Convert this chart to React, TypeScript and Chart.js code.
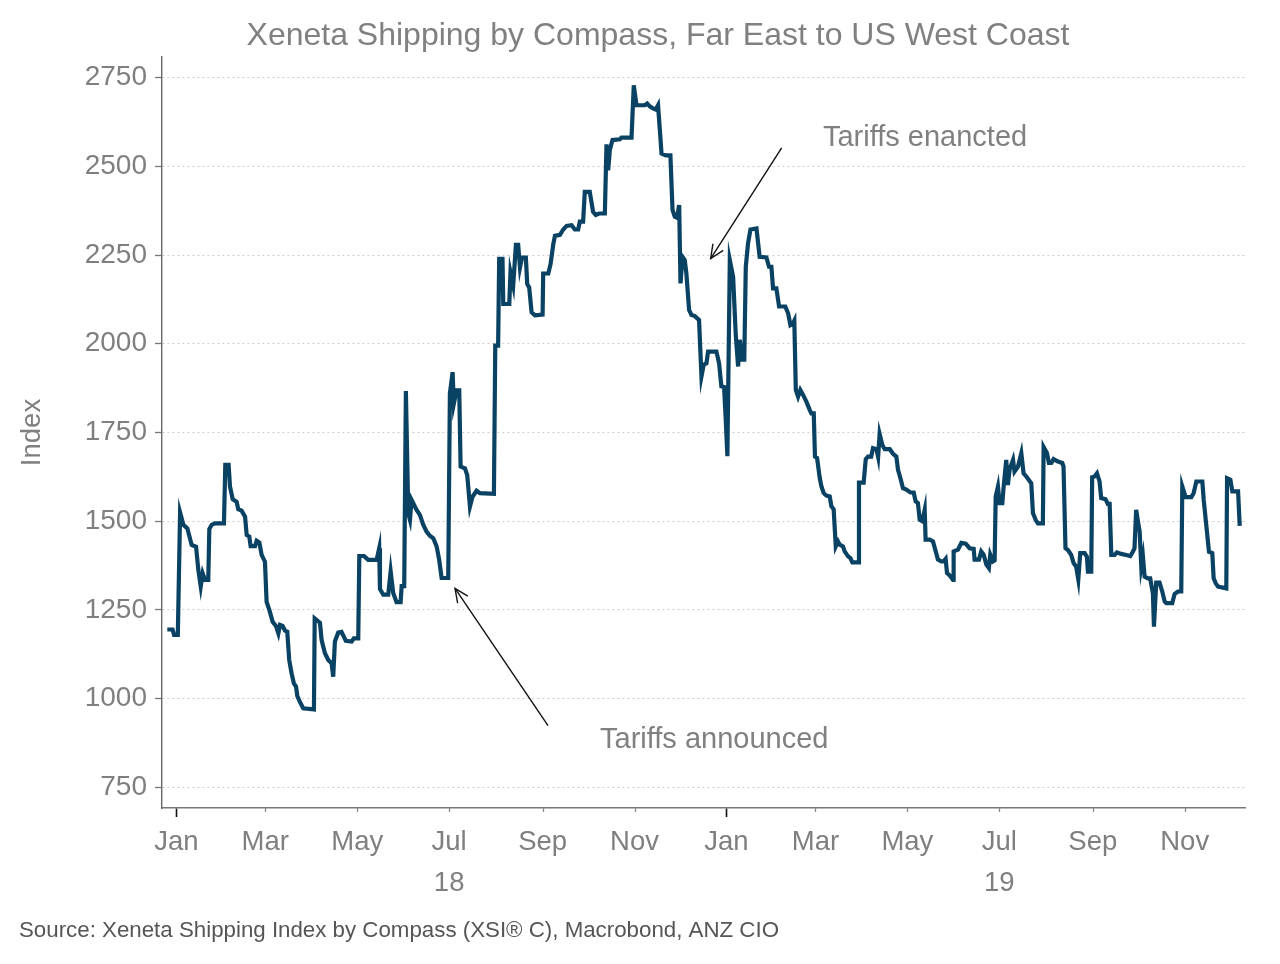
import React, { useEffect, useRef } from 'react';
import { Chart, registerables } from 'chart.js';

Chart.register(...registerables);

const FONT = "'Liberation Sans', Arial, Helvetica, sans-serif";

const chartTitle = 'Xeneta Shipping by Compass, Far East to US West Coast';
const sourceText = 'Source: Xeneta Shipping Index by Compass (XSI\u00AE C), Macrobond, ANZ CIO';
const yAxisTitle = 'Index';

// x values are days since 2018-01-01
const BASE_DATE = '2018-01-01';
const xRange = [-9.5, 709];
const yRange = [692, 2808];

const tickDates = [
  '2018-01-01', '2018-03-01', '2018-05-01', '2018-07-01', '2018-09-01', '2018-11-01',
  '2019-01-01', '2019-03-01', '2019-05-01', '2019-07-01', '2019-09-01', '2019-11-01',
];
const tickMonths = ['Jan', 'Mar', 'May', 'Jul', 'Sep', 'Nov', 'Jan', 'Mar', 'May', 'Jul', 'Sep', 'Nov'];
const tickYears = ['', '', '', '18', '', '', '', '', '', '19', '', ''];
const yTicks = [750, 1000, 1250, 1500, 1750, 2000, 2250, 2500, 2750];

const dayOffsets = [
  -6.0, -2.5, -1.5, 1.0, 2.5, 4.7, 7.3, 10.2, 13.1, 14.6, 16.2, 17.5, 19.0, 21.2, 21.9, 23.5, 25.7, 31.6,
  32.5, 34.7, 35.6, 37.4, 40.0, 41.1, 43.3, 45.6, 46.7, 48.4, 49.3, 52.2, 53.3, 55.1, 56.6, 58.8, 59.9,
  61.7, 63.9, 66.1, 67.7, 68.8, 70.5, 72.1, 73.6, 74.9, 76.5, 78.0, 79.4, 80.3, 82.0, 84.2, 91.3, 91.8,
  95.3, 96.4, 98.6, 100.8, 103.0, 104.1, 105.2, 107.4, 109.6, 112.5, 116.3, 117.8, 120.7, 121.4, 124.5,
  127.3, 132.9, 134.6, 135.1, 137.3, 140.6, 142.2, 143.9, 146.1, 148.8, 149.5, 151.2, 152.3, 153.9, 155.0,
  156.1, 159.4, 161.6, 163.8, 166.0, 168.2, 170.5, 172.7, 174.4, 176.0, 180.4, 181.5, 183.3, 184.1, 185.9,
  187.7, 188.6, 191.5, 193.0, 194.8, 196.5, 199.2, 201.4, 210.7, 211.6, 213.5, 214.2, 216.4, 216.9, 220.9,
  221.7, 223.5, 225.3, 226.8, 228.0, 229.3, 231.9, 232.8, 234.1, 235.7, 237.9, 243.0, 243.4, 246.8, 248.3,
  250.1, 251.2, 254.5, 256.7, 258.9, 262.2, 264.4, 266.6, 267.7, 269.9, 271.0, 274.3, 276.5, 278.3, 280.5,
  284.3, 285.4, 286.5, 287.6, 289.4, 294.2, 295.3, 302.0, 303.5, 305.3, 310.8, 312.4, 314.1, 316.3, 318.1,
  319.6, 320.8, 321.9, 324.7, 327.8, 329.2, 330.7, 332.2, 333.6, 334.5, 335.8, 337.3, 338.4, 340.2, 341.8,
  344.0, 346.8, 348.4, 349.9, 351.7, 352.8, 358.3, 360.1, 361.6, 363.4, 364.5, 365.6, 367.2, 369.4, 371.1,
  372.7, 373.8, 375.5, 376.8, 377.8, 379.3, 380.9, 384.9, 387.0, 391.5, 393.2, 394.8, 395.9, 398.1, 399.9,
  404.0, 405.9, 407.4, 409.2, 410.0, 411.0, 412.5, 414.0, 415.8, 418.0, 420.2, 421.3, 422.9, 423.7, 425.1,
  426.9, 428.0, 429.5, 431.3, 433.5, 434.6, 436.1, 437.5, 439.0, 440.1, 442.3, 443.4, 445.7, 447.2, 448.5,
  452.3, 452.9, 456.0, 457.4, 458.9, 461.0, 462.2, 464.5, 465.6, 466.6, 468.4, 470.0, 473.3, 475.5, 477.7,
  478.8, 480.4, 482.1, 484.3, 487.0, 489.2, 490.5, 492.0, 493.2, 494.9, 496.5, 497.1, 499.8, 502.0, 503.8,
  505.3, 507.5, 509.1, 510.4, 511.3, 513.1, 515.3, 515.7, 518.6, 520.8, 523.7, 526.3, 529.0, 529.6, 532.5,
  534.0, 535.6, 537.4, 539.1, 540.0, 541.8, 542.9, 543.6, 545.1, 546.2, 548.0, 548.9, 550.6, 551.7, 552.8,
  555.1, 556.1, 558.4, 560.6, 562.1, 563.9, 567.2, 568.3, 570.1, 571.6, 574.9, 575.4, 577.6, 578.9, 580.5,
  582.0, 584.9, 587.8, 588.6, 589.9, 591.5, 593.7, 595.3, 597.0, 598.4, 599.7, 602.6, 604.1, 604.8, 607.0,
  607.6, 609.2, 610.8, 612.5, 613.6, 616.5, 618.0, 619.2, 620.3, 622.5, 624.0, 626.9, 630.2, 632.9, 634.6,
  635.7, 636.8, 638.0, 639.1, 640.2, 641.3, 642.4, 644.6, 646.1, 647.9, 648.6, 650.1, 652.3, 654.1, 655.7,
  656.8, 660.7, 662.3, 664.5, 666.7, 667.4, 669.6, 673.4, 674.9, 676.7, 680.7, 681.6, 683.4, 685.1, 687.3,
  688.2, 689.6, 691.1, 696.6, 697.1, 699.3, 700.6, 704.4, 705.5,
];

const indexValues = [
  1195, 1195, 1180, 1180, 1525, 1490, 1480, 1433, 1428, 1363, 1316, 1353, 1335, 1335, 1478, 1490, 1494, 1494,
  1659, 1659, 1598, 1562, 1555, 1534, 1530, 1513, 1461, 1457, 1430, 1430, 1445, 1440, 1405, 1386, 1273,
  1250, 1217, 1205, 1184, 1208, 1205, 1192, 1189, 1109, 1071, 1043, 1034, 1007, 991, 973, 970, 1226,
  1214, 1165, 1128, 1109, 1100, 1062, 1161, 1186, 1188, 1163, 1161, 1170, 1170, 1402, 1402,
  1391, 1391, 1424, 1309, 1293, 1293, 1359, 1298, 1272, 1272, 1317, 1317, 1867, 1522, 1504,
  1560, 1532, 1518, 1490, 1471, 1459, 1452, 1429, 1391, 1340, 1340, 1860, 1920, 1831, 1869,
  1869, 1654, 1649, 1630, 1541, 1569, 1586, 1579, 1577, 1995, 1995, 2239, 2239, 2112, 2112,
  2201, 2164, 2279, 2279, 2215, 2243, 2243, 2168, 2159, 2089, 2080, 2082, 2198, 2198, 2225,
  2281, 2304, 2307, 2322, 2332, 2334, 2322, 2322, 2344, 2344, 2428, 2428, 2372, 2363, 2367,
  2367, 2562, 2489, 2546, 2574, 2576, 2581, 2581, 2728, 2672, 2672, 2677, 2669, 2663, 2660,
  2672, 2602, 2536, 2531, 2531, 2377, 2358, 2355, 2391, 2170, 2245, 2236, 2198, 2095, 2081,
  2078, 2067, 1908, 1941, 1945, 1978, 1978, 1945, 1880, 1878, 1787, 1683, 2236, 2189, 2030,
  1936, 2011, 1955, 1955, 2217, 2283, 2322, 2325, 2245, 2243, 2217, 2217, 2156, 2156, 2105,
  2105, 2086, 2053, 2058, 2065, 1870, 1851, 1870, 1856, 1837, 1814, 1804, 1804, 1682, 1678,
  1621, 1598, 1579, 1572, 1570, 1542, 1534, 1429, 1443, 1434, 1429, 1415, 1401, 1396, 1384,
  1384, 1609, 1609, 1675, 1682, 1682, 1706, 1703, 1681, 1746, 1715, 1703, 1703, 1690, 1682,
  1645, 1621, 1593, 1589, 1581, 1581, 1556, 1551, 1504, 1500, 1532, 1448, 1448, 1443, 1415,
  1392, 1387, 1387, 1394, 1354, 1347, 1335, 1415, 1420, 1439, 1437, 1424, 1422, 1392, 1392,
  1415, 1406, 1378, 1368, 1406, 1387, 1390, 1570, 1598, 1551, 1551, 1598, 1673, 1602, 1645,
  1673, 1640, 1654, 1692, 1635, 1626, 1607, 1523, 1504, 1494, 1494, 1709, 1692, 1664, 1664,
  1675, 1668, 1664, 1654, 1424, 1419, 1405, 1382, 1372, 1336, 1410, 1410, 1400, 1358, 1358,
  1624, 1626, 1635, 1612, 1565, 1562, 1549, 1549, 1405, 1405, 1412, 1408, 1405, 1402, 1414,
  1424, 1532, 1499, 1471, 1372, 1400, 1344, 1339, 1339, 1297, 1203, 1327, 1327, 1302, 1274,
  1269, 1269, 1295, 1302, 1302, 1598, 1568, 1568, 1579, 1612, 1612, 1560, 1485, 1414, 1410,
  1339, 1325, 1316, 1311, 1621, 1617, 1584, 1584, 1487,
];

// annotations: [day, value] pairs in data space
const enactedText = 'Tariffs enancted';
const enactedTextAt = [429.0, 2557];
const enactedArrowFrom = [401.6, 2552];
const enactedArrowTo = [354.5, 2240];
const announcedText = 'Tariffs announced';
const announcedTextAt = [281.1, 862];
const announcedArrowFrom = [246.6, 924];
const announcedArrowTo = [184.9, 1311];

const toDay = (s: string) => (Date.parse(s + 'T00:00:00Z') - Date.parse(BASE_DATE + 'T00:00:00Z')) / 86400000;
const tickDays = tickDates.map(toDay);

const overlayPlugin = {
  id: 'overlay',
  afterDatasetsDraw(chart: any) {
    const { ctx, scales } = chart;
    const xs = scales.x;
    const ys = scales.y;
    const px = (p: number[]) => [xs.getPixelForValue(p[0]), ys.getPixelForValue(p[1])];

    ctx.save();
    const arrow = (from: number[], to: number[]) => {
      const [x1, y1] = px(from);
      const [x2, y2] = px(to);
      ctx.strokeStyle = '#111';
      ctx.lineWidth = 1.4;
      ctx.beginPath();
      ctx.moveTo(x1, y1);
      ctx.lineTo(x2, y2);
      ctx.stroke();
      const ang = Math.atan2(y2 - y1, x2 - x1);
      const len = 15;
      const spread = 0.42;
      ctx.beginPath();
      ctx.moveTo(x2 - len * Math.cos(ang - spread), y2 - len * Math.sin(ang - spread));
      ctx.lineTo(x2, y2);
      ctx.lineTo(x2 - len * Math.cos(ang + spread), y2 - len * Math.sin(ang + spread));
      ctx.stroke();
    };
    arrow(enactedArrowFrom, enactedArrowTo);
    arrow(announcedArrowFrom, announcedArrowTo);

    ctx.fillStyle = '#808080';
    ctx.font = `29px ${FONT}`;
    ctx.textAlign = 'left';
    ctx.textBaseline = 'alphabetic';
    let p = px(enactedTextAt);
    ctx.fillText(enactedText, p[0], p[1]);
    p = px(announcedTextAt);
    ctx.fillText(announcedText, p[0], p[1]);
    ctx.restore();
  },
  afterDraw(chart: any) {
    const { ctx, scales } = chart;
    const xs = scales.x;
    ctx.save();
    ctx.strokeStyle = '#8a8a8a';
    ctx.lineWidth = 1.3;
    tickDays.forEach((d, i) => {
      if (tickMonths[i] === 'Jan') return;
      const x = Math.round(xs.getPixelForValue(d)) + 0.5;
      ctx.beginPath();
      ctx.moveTo(x, xs.top);
      ctx.lineTo(x, xs.top + 4);
      ctx.stroke();
    });
    ctx.fillStyle = '#808080';
    ctx.font = `32px ${FONT}`;
    ctx.textAlign = 'center';
    ctx.textBaseline = 'alphabetic';
    ctx.fillText(chartTitle, 658, 44.5);
    ctx.fillStyle = '#555555';
    ctx.font = `22.3px ${FONT}`;
    ctx.textAlign = 'left';
    ctx.fillText(sourceText, 19, 937);
    ctx.restore();
  },
};

export default function App() {
  const canvasRef = useRef<HTMLCanvasElement | null>(null);

  useEffect(() => {
    const canvas = canvasRef.current;
    if (!canvas) return;
    Chart.defaults.font.family = FONT;
    const points = dayOffsets.map((d, i) => ({ x: d, y: indexValues[i] }));

    const chart = new Chart(canvas, {
      type: 'line',
      data: {
        datasets: [
          {
            data: points,
            borderColor: '#0a4264',
            borderWidth: 4.2,
            pointRadius: 0,
            tension: 0,
            fill: false,
          },
        ],
      },
      options: {
        animation: false,
        responsive: false,
        devicePixelRatio: 1,
        layout: { padding: { top: 57, right: 35, bottom: 0, left: 0 } },
        plugins: {
          legend: { display: false },
          title: { display: false },
          tooltip: { enabled: false },
        },
        scales: {
          x: {
            type: 'linear',
            min: xRange[0],
            max: xRange[1],
            afterBuildTicks: (scale: any) => {
              scale.ticks = tickDays.map((v) => ({ value: v }));
            },
            afterFit: (scale: any) => {
              scale.height = 156;
            },
            ticks: {
              autoSkip: false,
              maxRotation: 0,
              minRotation: 0,
              padding: 5,
              color: '#7f7f7f',
              font: { size: 27.5, lineHeight: 1.5 },
              callback: (value: any) => {
                const i = tickDays.findIndex((d) => Math.abs(d - value) < 0.01);
                if (i < 0) return '';
                return tickYears[i] ? [tickMonths[i], tickYears[i]] : tickMonths[i];
              },
            },
            grid: {
              drawOnChartArea: false,
              drawTicks: true,
              tickLength: 9,
              tickWidth: 1.6,
              tickColor: (ctx: any) => {
                const v = ctx.tick ? ctx.tick.value : null;
                const i = tickDays.findIndex((d) => Math.abs(d - v) < 0.01);
                return i >= 0 && tickMonths[i] === 'Jan' ? '#111111' : 'rgba(0,0,0,0)';
              },
            },
            border: { display: true, color: '#777777', width: 1.4 },
          },
          y: {
            type: 'linear',
            min: yRange[0],
            max: yRange[1],
            afterBuildTicks: (scale: any) => {
              scale.ticks = yTicks.map((v) => ({ value: v }));
            },
            afterFit: (scale: any) => {
              scale.width = 162;
            },
            title: {
              display: true,
              text: yAxisTitle,
              color: '#808080',
              font: { size: 27.5, lineHeight: 1.2 },
              padding: { top: 16, bottom: 0 },
            },
            ticks: {
              padding: 8,
              color: '#7f7f7f',
              font: { size: 28 },
              callback: (value: any) => String(value),
            },
            grid: {
              color: '#cccccc',
              lineWidth: 1,
              drawTicks: true,
              tickLength: 7,
              tickColor: '#777777',
              tickWidth: 1.3,
            },
            border: { display: true, color: '#666666', width: 1.4, dash: [2, 3] },
          },
        },
      },
      plugins: [overlayPlugin],
    } as any);

    return () => {
      chart.destroy();
    };
  }, []);

  return (
    <div style={{ position: 'absolute', left: 0, top: 0, width: 1280, height: 964, background: '#ffffff' }}>
      <canvas ref={canvasRef} width={1280} height={964} style={{ width: 1280, height: 964, display: 'block' }} />
    </div>
  );
}
